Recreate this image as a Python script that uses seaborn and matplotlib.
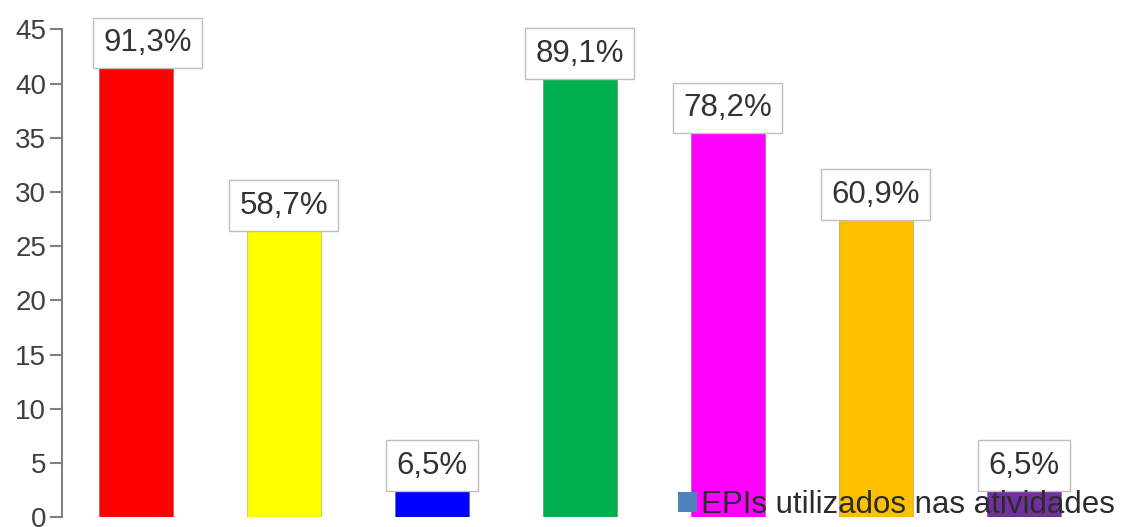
import matplotlib
matplotlib.use("Agg")
import matplotlib.pyplot as plt
from matplotlib.patches import Patch
import seaborn as sns
import pandas as pd

# Counts per item and the percentage shown above each bar
items = ["1", "2", "3", "4", "5", "6", "7"]
counts = [42, 27, 3, 41, 36, 28, 3]
pct_labels = ["91,3%", "58,7%", "6,5%", "89,1%", "78,2%", "60,9%", "6,5%"]
bar_colors = ["#FF0000", "#FFFF00", "#0000FF", "#00B050", "#FF00FF", "#FFC000", "#7030A0"]
series_name = "EPIs utilizados nas atividades"
y_ticks = [0, 5, 10, 15, 20, 25, 30, 35, 40, 45]

sns.set_theme(style="white")
plt.rcParams["font.family"] = ["Liberation Sans", "DejaVu Sans"]

df = pd.DataFrame({"item": items, "count": counts})

fig = plt.figure(figsize=(11.25, 5.27), dpi=100)
ax = fig.add_axes([0.0548, 0.0184, 0.9209, 0.926])

sns.barplot(data=df, x="item", y="count", hue="item", palette=bar_colors,
            saturation=1, width=0.5, legend=False, ax=ax,
            edgecolor="#00000030", linewidth=0.8)

ax.set_xlim(-0.5, 6.5)
ax.set_ylim(0, 45)
ax.set_yticks(y_ticks)
ax.set_yticklabels([str(t) for t in y_ticks], fontsize=20, color="#404040")
ax.set_xticks([])
ax.set_xlabel("")
ax.set_ylabel("")

for side in ["top", "right", "bottom"]:
    ax.spines[side].set_visible(False)
ax.spines["left"].set_color("#808080")
ax.spines["left"].set_linewidth(1.5)
ax.tick_params(axis="y", which="major", left=True, length=9, width=1.5,
               color="#808080", pad=2)

# Value boxes sit over the top of each bar
label_nudge = {0: 12}
for i, (c, lab) in enumerate(zip(counts, pct_labels)):
    ax.annotate(lab, xy=(i, c), xytext=(label_nudge.get(i, 0), 4),
                textcoords="offset pixels", ha="center", va="bottom",
                fontsize=22.5, color="#333333", annotation_clip=False,
                bbox=dict(boxstyle="square,pad=0.33", fc="white",
                          ec="#c0c0c0", lw=1))

handle = Patch(facecolor="#4F81BD", edgecolor="none", label=series_name)
fig.legend(handles=[handle], loc="lower right", bbox_to_anchor=(1.008, -0.022),
           frameon=False, fontsize=22.5, handlelength=0.6, handleheight=0.6,
           handletextpad=0.15, borderaxespad=0.2, labelcolor="#2b2b2b")

fig.savefig("out.png", dpi=100)
